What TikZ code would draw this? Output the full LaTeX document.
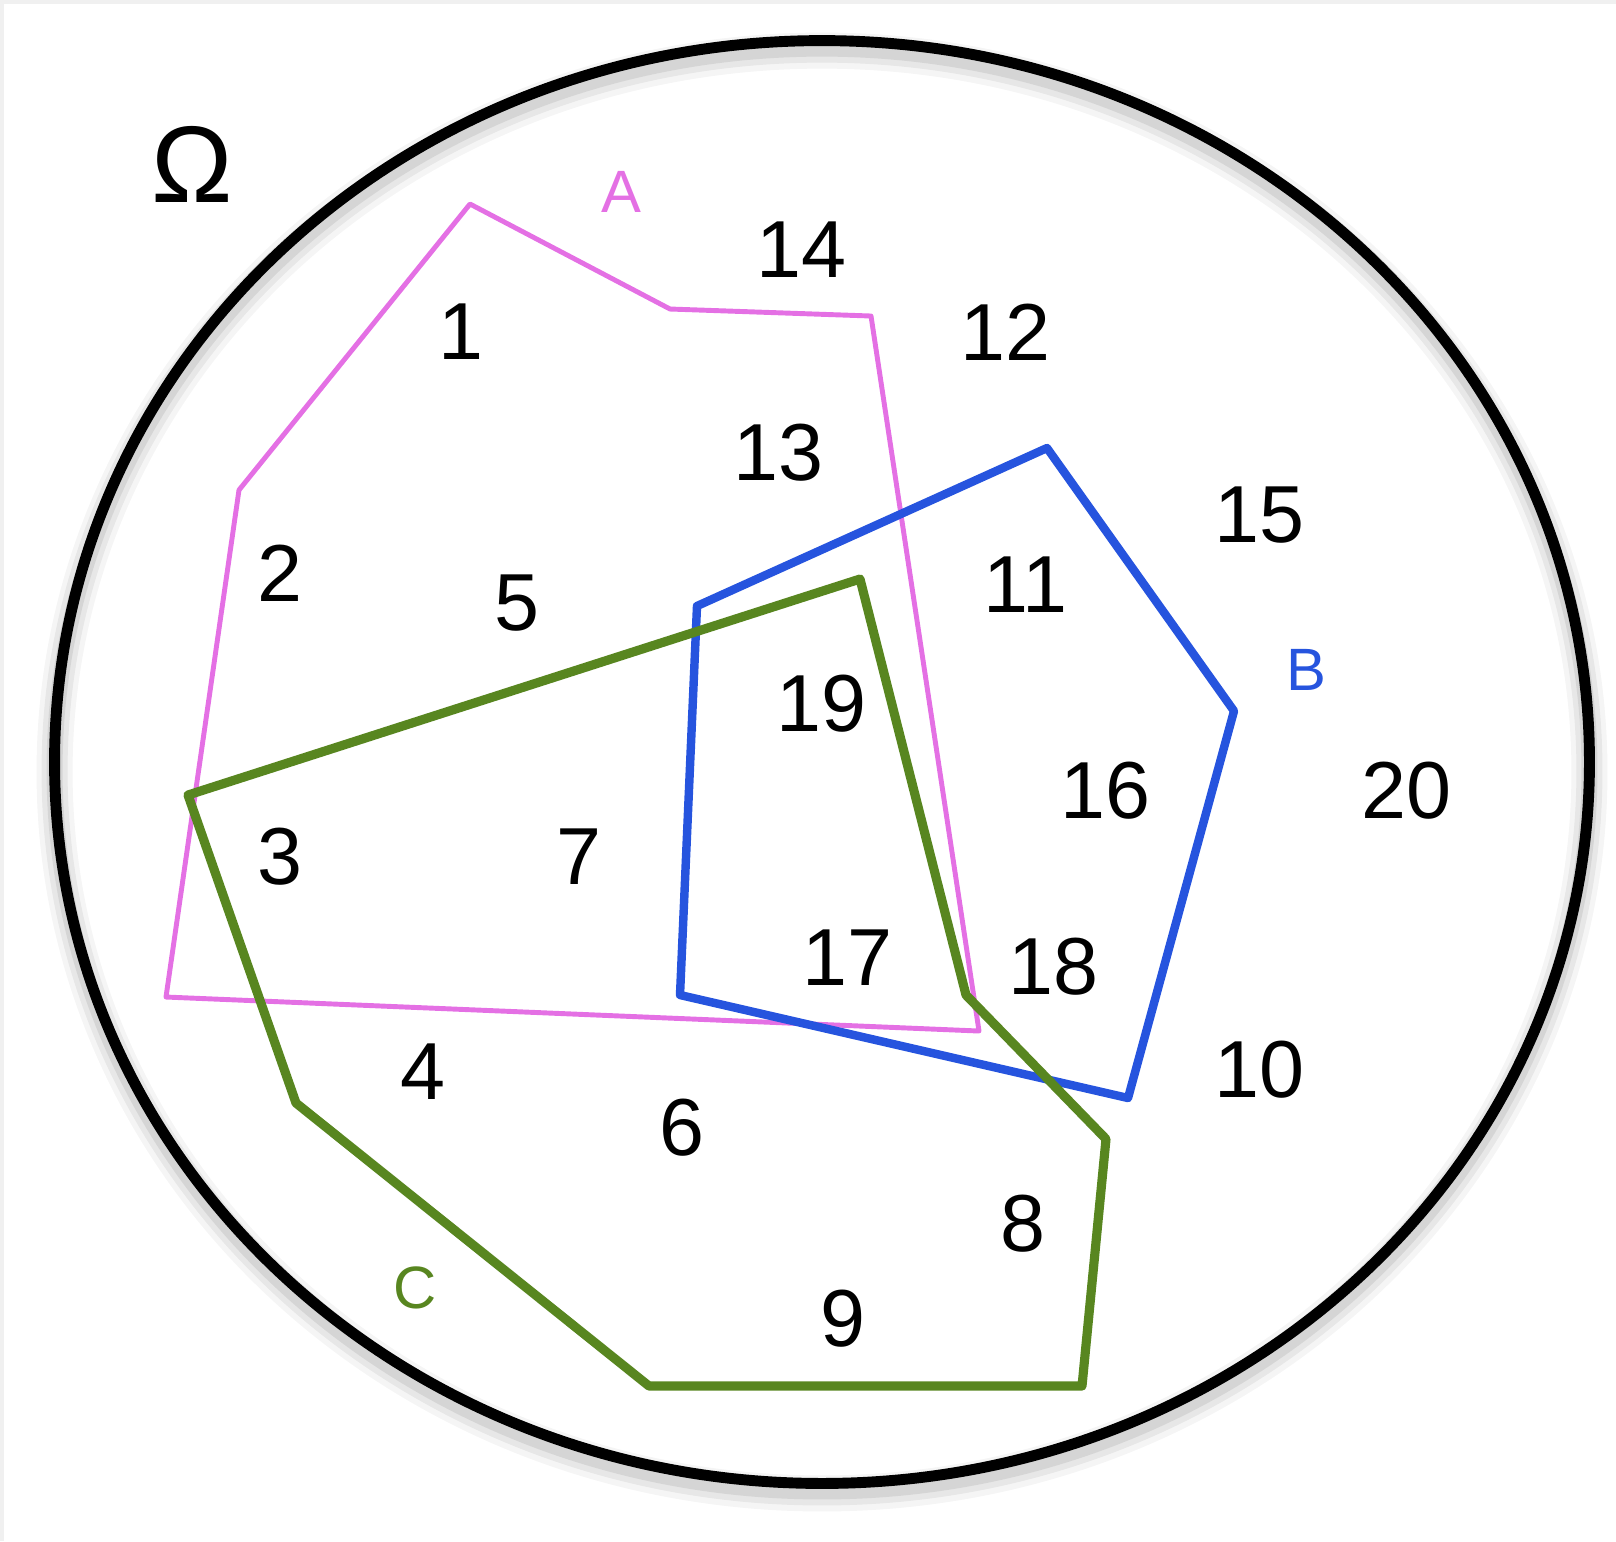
\documentclass[tikz,border=0pt]{standalone}
\usepackage{fontspec}
\setmainfont{Liberation Sans}
\definecolor{setpink}{RGB}{228,112,228}
\definecolor{setblue}{RGB}{38,84,222}
\definecolor{setgreen}{RGB}{88,134,32}
\begin{document}
\begin{tikzpicture}[x=0.01cm, y=-0.01cm, line join=round, line cap=round,
	num/.style={font=\fontsize{23}{23}\selectfont, inner sep=0pt},
	lab/.style={font=\fontsize{17}{17}\selectfont, inner sep=0pt}]
				\useasboundingbox (0,0) rectangle (1616,1541);
				\fill[gray!12] (0,0) rectangle (1616,4);
				\fill[gray!12] (0,0) rectangle (4,1541);
				% soft shadow under the universe
				\draw[line width=0.36cm, black, opacity=0.04] (822,772) ellipse [x radius=7.67cm, y radius=7.21cm];
				\draw[line width=0.26cm, black, opacity=0.06] (822,771) ellipse [x radius=7.67cm, y radius=7.21cm];
				\draw[line width=0.16cm, black, opacity=0.08] (822,770) ellipse [x radius=7.67cm, y radius=7.21cm];
				\draw[line width=3.1pt] (822,762) ellipse [x radius=7.67cm, y radius=7.21cm];
				\node[font=\fontsize{31}{31}\selectfont, inner sep=0pt] (omega) at (192,164) {Ω};
				% sets
				\draw[setpink, line width=1.4pt] (470,204) -- (670,309) -- (871,316) -- (979,1031) -- (166,997) -- (239,490) -- cycle;
				\draw[setblue, line width=2.4pt] (1047,448) -- (1234,711) -- (1128,1098) -- (680,995) -- (697,606) -- cycle;
				\draw[setgreen, line width=2.6pt] (188,795) -- (860,579) -- (966,995) -- (1106,1139) -- (1082,1386) -- (649,1386) -- (296,1103) -- cycle;
				\node[lab, setpink] (labA) at (621,192) {A};
				\node[lab, setblue] (labB) at (1306,670) {B};
				\node[lab, setgreen] (labC) at (415,1288) {C};
				% elements
				\node[num] (n1) at (461,332) {1};
				\node[num] (n2) at (280,573) {2};
				\node[num] (n3) at (280,857) {3};
				\node[num] (n4) at (423,1072) {4};
				\node[num] (n5) at (517,603) {5};
				\node[num] (n6) at (682,1128) {6};
				\node[num] (n7) at (579,857) {7};
				\node[num] (n8) at (1023,1224) {8};
				\node[num] (n9) at (843,1319) {9};
				\node[num] (n10) at (1259,1070) {10};
				\node[num] (n11) at (1025,585) {11};
				\node[num] (n12) at (1005,332) {12};
				\node[num] (n13) at (778,453) {13};
				\node[num] (n14) at (801,250) {14};
				\node[num] (n15) at (1259,515) {15};
				\node[num] (n16) at (1105,791) {16};
				\node[num] (n17) at (847,958) {17};
				\node[num] (n18) at (1053,967) {18};
				\node[num] (n19) at (821,704) {19};
				\node[num] (n20) at (1406,791) {20};
			\end{tikzpicture}
\end{document}
